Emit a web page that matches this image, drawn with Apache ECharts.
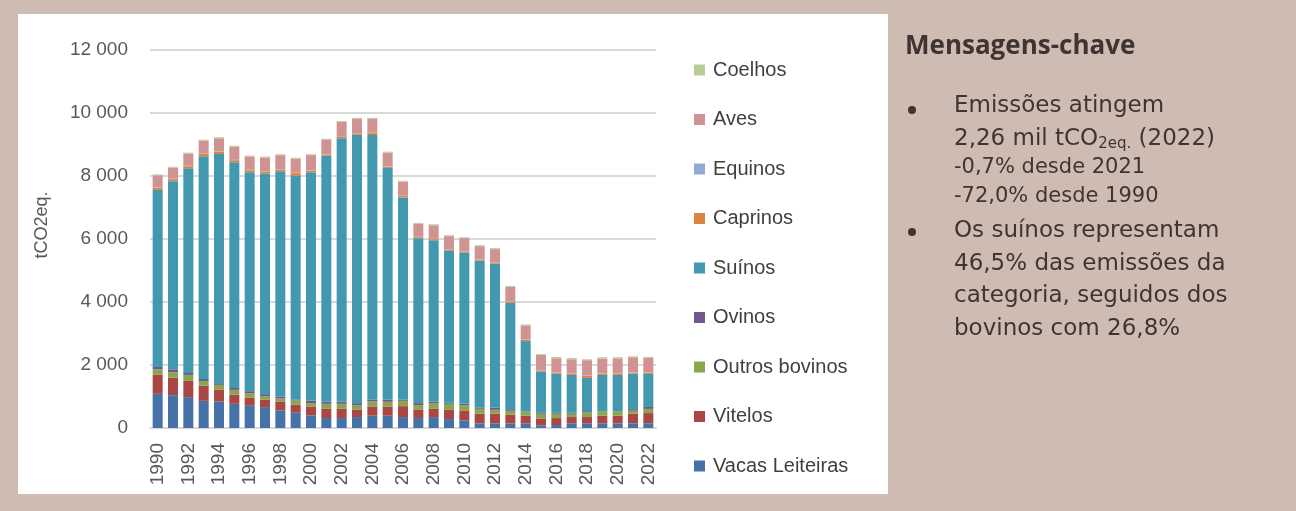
<!DOCTYPE html>
<html>
<head>
<meta charset="utf-8">
<script src="https://cdn.jsdelivr.net/npm/echarts@6/dist/echarts.min.js"></script>
<style>
  html, body { margin: 0; padding: 0; background: #cebbb2; }
  #chart { width: 1296px; height: 511px; }
</style>
</head>
<body>
<div id="chart"></div>
<script>
// anos 1990-2022
const years = [];
for (let y = 1990; y <= 2022; y++) years.push(String(y));

const yTicks = [0, 2000, 4000, 6000, 8000, 10000, 12000];

// tCO2eq. por categoria
const vacasLeiteiras = [1085, 1042, 979, 863, 842, 768, 705, 663, 558, 484, 400, 316, 316, 347, 390, 390, 347, 316, 347, 284, 242, 147, 147, 147, 147, 84, 95, 147, 147, 147, 147, 147, 150];
const vitelos = [611, 558, 516, 484, 369, 295, 253, 242, 284, 253, 284, 305, 305, 242, 295, 295, 347, 274, 274, 305, 316, 305, 305, 273, 242, 220, 220, 200, 200, 242, 242, 305, 325];
const outrosBovinos = [168, 168, 190, 147, 158, 147, 147, 105, 95, 137, 105, 147, 147, 137, 158, 147, 168, 137, 158, 179, 158, 158, 126, 126, 126, 147, 136, 105, 147, 137, 137, 95, 131];
const ovinos = [74, 95, 63, 63, 53, 63, 63, 63, 63, 32, 74, 63, 63, 63, 63, 63, 32, 63, 52, 32, 52, 42, 63, 52, 10, 31, 31, 31, 42, 10, 10, 52, 60];
const suinos = [5620, 5974, 6500, 7070, 7278, 7164, 6953, 7007, 7153, 7099, 7258, 7817, 8365, 8511, 8394, 7363, 6427, 5236, 5132, 4825, 4794, 4657, 4573, 3374, 2234, 1310, 1245, 1202, 1054, 1149, 1149, 1130, 1051];
const caprinos = [70, 63, 63, 73, 75, 63, 63, 63, 41, 85, 42, 32, 63, 30, 63, 42, 42, 32, 32, 32, 31, 31, 42, 42, 41, 40, 33, 32, 63, 32, 32, 30, 30];
const equinos = [12, 12, 12, 12, 12, 12, 12, 12, 12, 12, 12, 12, 12, 12, 12, 12, 12, 12, 12, 12, 12, 12, 12, 12, 12, 12, 12, 12, 12, 12, 12, 12, 12];
const aves = [380, 348, 390, 410, 410, 420, 421, 432, 454, 450, 487, 462, 442, 476, 443, 430, 442, 411, 430, 420, 421, 421, 411, 452, 445, 475, 440, 453, 487, 473, 478, 475, 471];
const coelhos = [30, 32, 30, 30, 35, 30, 30, 30, 30, 30, 30, 30, 30, 30, 30, 30, 30, 30, 30, 30, 30, 30, 30, 30, 30, 25, 45, 40, 30, 45, 40, 30, 30];

const seriesDefs = [
  { name: "Vacas Leiteiras", data: vacasLeiteiras, color: "#4572a7" },
  { name: "Vitelos", data: vitelos, color: "#aa4643" },
  { name: "Outros bovinos", data: outrosBovinos, color: "#89a54e" },
  { name: "Ovinos", data: ovinos, color: "#71588f" },
  { name: "Suínos", data: suinos, color: "#4198af" },
  { name: "Caprinos", data: caprinos, color: "#db843d" },
  { name: "Equinos", data: equinos, color: "#93a9cf" },
  { name: "Aves", data: aves, color: "#d19392" },
  { name: "Coelhos", data: coelhos, color: "#b9cd96" }
];

const textColor = "#3f3431";
const bodyFont = "DejaVu Sans";

function bodyLine(txt, y, size) {
  return {
    type: "text", x: 954, y: y,
    style: { text: txt, fontSize: size, fill: textColor, verticalAlign: "middle", fontFamily: bodyFont }
  };
}

const chart = echarts.init(document.getElementById("chart"));

const option = {
  backgroundColor: "#cebbb2",
  animation: false,
  textStyle: { fontFamily: "Liberation Sans" },
  grid: { left: 150, right: 640, top: 50, bottom: 83 },
  legend: {
    orient: "vertical",
    left: 689,
    top: 55,
    itemWidth: 11,
    itemHeight: 11,
    itemGap: 29.5,
    icon: "rect",
    textStyle: { fontSize: 20, color: "#404040", lineHeight: 20, padding: [0, 0, 0, 3], fontFamily: "Liberation Sans" },
    data: seriesDefs.map(s => s.name).reverse()
  },
  xAxis: {
    type: "category",
    data: years,
    axisTick: { show: false },
    axisLine: { lineStyle: { color: "#d9d9d9", width: 2 } },
    axisLabel: {
      interval: 1,
      rotate: 90,
      fontSize: 19,
      color: "#595959",
      margin: 15
    }
  },
  yAxis: {
    type: "value",
    min: yTicks[0],
    max: yTicks[yTicks.length - 1],
    interval: 2000,
    axisLine: { show: false },
    axisTick: { show: false },
    splitLine: { lineStyle: { color: "#d9d9d9", width: 2 } },
    axisLabel: {
      fontSize: 19,
      color: "#595959",
      margin: 22,
      formatter: v => String(v).replace(/\B(?=(\d{3})+(?!\d))/g, " ")
    }
  },
  series: seriesDefs.map(s => ({
    name: s.name,
    type: "bar",
    stack: "total",
    barWidth: 10,
    itemStyle: { color: s.color },
    emphasis: { disabled: true },
    data: s.data
  })),
  graphic: [
    {
      type: "rect",
      z: -10,
      shape: { x: 18, y: 14, width: 870, height: 480 },
      style: { fill: "#ffffff" }
    },
    {
      type: "text",
      x: 42,
      y: 225,
      rotation: Math.PI / 2,
      style: { text: "tCO2eq.", fontSize: 18, fill: "#595959", align: "center", verticalAlign: "middle", fontFamily: "Liberation Sans" }
    },
    {
      type: "text",
      x: 905,
      y: 47,
      style: { text: "Mensagens-chave", fontSize: 26, fontWeight: "bold", fill: textColor, verticalAlign: "middle", fontFamily: "Open Sans" }
    },
    { type: "circle", shape: { cx: 912, cy: 110, r: 4 }, style: { fill: textColor } },
    { type: "circle", shape: { cx: 912, cy: 232, r: 4 }, style: { fill: textColor } },
    bodyLine("Emissões atingem", 106, 23),
    {
      type: "text", x: 954, y: 139,
      style: {
        text: "{a|2,26 mil tCO}{s|2eq.}{a| (2022)}",
        verticalAlign: "middle",
        rich: {
          a: { fontSize: 23, fill: textColor, color: textColor, fontFamily: bodyFont, verticalAlign: "bottom" },
          s: { fontSize: 15, fill: textColor, color: textColor, fontFamily: bodyFont, verticalAlign: "bottom", padding: [0, 0, -1, 0] }
        }
      }
    },
    bodyLine("-0,7% desde 2021", 168, 21),
    bodyLine("-72,0% desde 1990", 197, 21),
    bodyLine("Os suínos representam", 231, 23),
    bodyLine("46,5% das emissões da", 264, 23),
    bodyLine("categoria, seguidos dos", 296, 23),
    bodyLine("bovinos com 26,8%", 329, 23)
  ]
};

chart.setOption(option);
</script>
</body>
</html>
